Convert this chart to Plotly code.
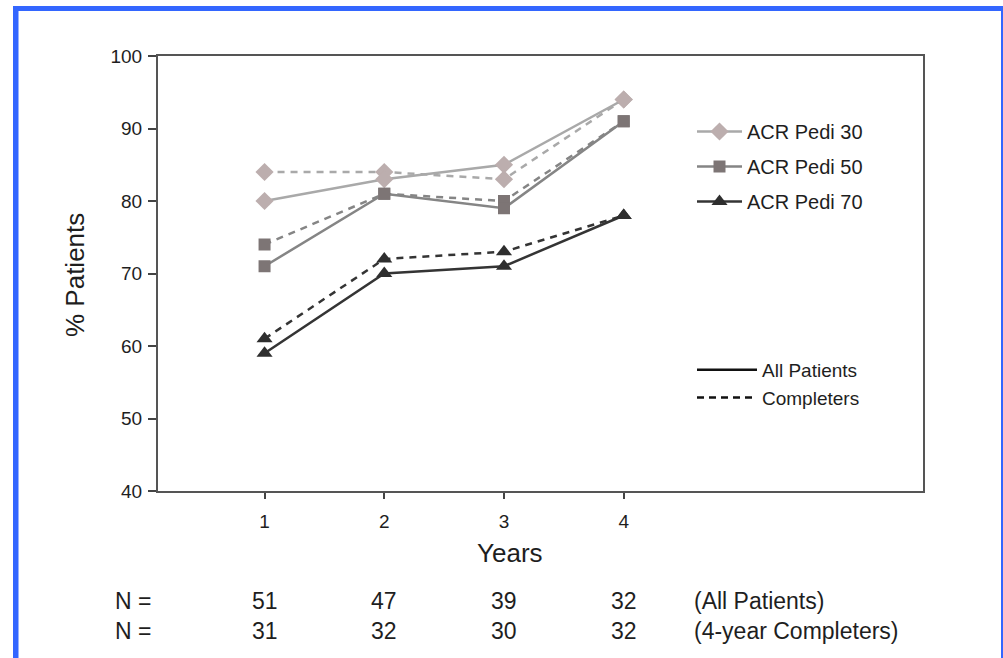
import plotly.graph_objects as go

# Years of follow-up
years = [1, 2, 3, 4]

# % of patients reaching each ACR Pedi response level
pedi30_all = [80, 83, 85, 94]
pedi30_comp = [84, 84, 83, 94]
pedi50_all = [71, 81, 79, 91]
pedi50_comp = [74, 81, 80, 91]
pedi70_all = [59, 70, 71, 78]
pedi70_comp = [61, 72, 73, 78]

# Patient counts per year
n_all = [51, 47, 39, 32]
n_comp = [31, 32, 30, 32]

series_names = ["ACR Pedi 30", "ACR Pedi 50", "ACR Pedi 70"]
style_names = ["All Patients", "Completers"]
y_ticks = [40, 50, 60, 70, 80, 90, 100]

FONT = "Liberation Sans, Arial, sans-serif"
TXT = "#1e1e1e"

W, H = 1003, 658
L, R, T, B = 158, 80, 56, 167
PW, PH = W - L - R, H - T - B


def px_x(p):
    return (p - L) / PW


def px_y(p):
    return (H - B - p) / PH


styles = [
    dict(line="#a9a9a9", marker="#bcaeae", symbol="diamond", size=14),
    dict(line="#858585", marker="#7d7575", symbol="square", size=12),
    dict(line="#343434", marker="#2e2e2e", symbol="triangle-up", size=14),
]
data_pairs = [
    (pedi30_all, pedi30_comp),
    (pedi50_all, pedi50_comp),
    (pedi70_all, pedi70_comp),
]

fig = go.Figure()

for name, st, (all_vals, comp_vals) in zip(series_names, styles, data_pairs):
    fig.add_trace(go.Scatter(
        x=years, y=comp_vals, mode="lines+markers", name=name,
        line=dict(color=st["line"], width=2.5, dash="7px,6px"),
        marker=dict(symbol=st["symbol"], size=st["size"], color=st["marker"]),
        showlegend=False, cliponaxis=False,
    ))
    fig.add_trace(go.Scatter(
        x=years, y=all_vals, mode="lines+markers", name=name,
        line=dict(color=st["line"], width=2.5),
        marker=dict(symbol=st["symbol"], size=st["size"], color=st["marker"]),
        legendgroup=name, showlegend=True, legend="legend", cliponaxis=False,
    ))

# Line-style key
for nm, dash in zip(style_names, ["solid", "7px,5px"]):
    fig.add_trace(go.Scatter(
        x=[None], y=[None], mode="lines", name=nm,
        line=dict(color="#111111", width=2.5, dash=dash),
        legend="legend2", showlegend=True,
    ))

shapes = []
blue = "#3366ff"
# blue frame around the figure
shapes.append(dict(type="rect", xref="paper", yref="paper", layer="above",
                   x0=px_x(13), x1=px_x(W + 5), y0=px_y(11), y1=px_y(6),
                   fillcolor=blue, line=dict(width=0)))
shapes.append(dict(type="rect", xref="paper", yref="paper", layer="above",
                   x0=px_x(13), x1=px_x(18.5), y0=px_y(H + 5), y1=px_y(6),
                   fillcolor=blue, line=dict(width=0)))
shapes.append(dict(type="rect", xref="paper", yref="paper", layer="above",
                   x0=px_x(1001), x1=px_x(W + 5), y0=px_y(H + 5), y1=px_y(6),
                   fillcolor=blue, line=dict(width=0)))

annotations = []
row_y = [601, 631]
row_labels = ["(All Patients)", "(4-year Completers)"]
row_font = dict(family=FONT, size=23, color=TXT)
for ry, counts, lab in zip(row_y, [n_all, n_comp], row_labels):
    annotations.append(dict(xref="paper", yref="paper", x=px_x(133), y=px_y(ry),
                            xanchor="center", yanchor="middle",
                            text="N =", showarrow=False, font=row_font))
    for yr, c in zip(years, counts):
        annotations.append(dict(xref="x", yref="paper", x=yr, y=px_y(ry),
                                xanchor="center", yanchor="middle",
                                text=str(c), showarrow=False, font=row_font))
    annotations.append(dict(xref="paper", yref="paper", x=px_x(692), y=px_y(ry),
                            xanchor="left", yanchor="middle",
                            text=lab, showarrow=False, font=row_font))

# axis titles
annotations.append(dict(xref="paper", yref="paper", x=px_x(510), y=px_y(553),
                        xanchor="center", yanchor="middle", text="Years",
                        showarrow=False, font=dict(family=FONT, size=26, color=TXT)))
annotations.append(dict(xref="paper", yref="paper", x=px_x(75), y=px_y(275),
                        xanchor="center", yanchor="middle", text="% Patients",
                        textangle=-90, showarrow=False,
                        font=dict(family=FONT, size=26, color=TXT)))

fig.update_layout(
    width=W, height=H,
    margin=dict(l=L, r=R, t=T, b=B),
    paper_bgcolor="white", plot_bgcolor="white",
    font=dict(family=FONT, color=TXT),
    xaxis=dict(
        range=[0.11, 6.5], tickvals=years, ticktext=[str(y) for y in years],
        ticks="outside", ticklen=6, tickwidth=1.5, tickcolor="#444",
        showline=True, linecolor="#555", linewidth=2, mirror=True,
        showgrid=False, zeroline=False, ticklabelstandoff=6,
        tickfont=dict(family=FONT, size=19, color=TXT),
    ),
    yaxis=dict(
        range=[40, 100], tickvals=y_ticks,
        ticks="outside", ticklen=8, tickwidth=1.5, tickcolor="#444",
        showline=True, linecolor="#555", linewidth=2, mirror=True,
        showgrid=False, zeroline=False, ticklabelstandoff=2,
        tickfont=dict(family=FONT, size=19, color=TXT),
    ),
    legend=dict(
        x=px_x(692), y=px_y(112), xanchor="left", yanchor="top",
        bgcolor="rgba(0,0,0,0)", tracegroupgap=6, itemwidth=45,
        font=dict(family=FONT, size=20, color=TXT),
    ),
    legend2=dict(
        x=px_x(692), y=px_y(351), xanchor="left", yanchor="top",
        bgcolor="rgba(0,0,0,0)", itemwidth=60, tracegroupgap=0,
        font=dict(family=FONT, size=19, color=TXT),
    ),
    shapes=shapes,
    annotations=annotations,
)

fig.write_html("out.html")
